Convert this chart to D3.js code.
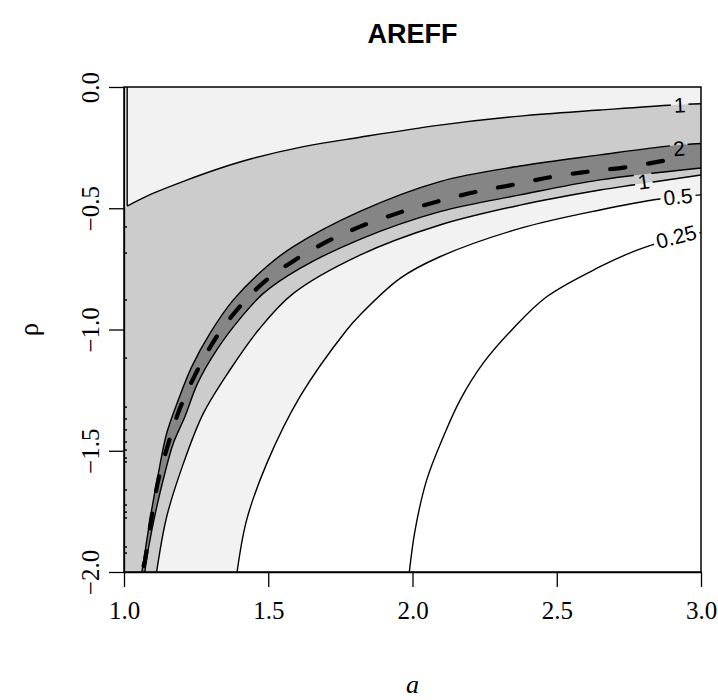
<!DOCTYPE html>
<html>
<head>
<meta charset="utf-8">
<script src="https://cdn.jsdelivr.net/npm/d3@7"></script>
<style>
  body { margin: 0; background: #fff; }
  svg { display: block; }
</style>
</head>
<body>
<div id="chart"></div>
<script>
// axis ticks
const aTicks = [1.0, 1.5, 2.0, 2.5, 3.0];
const rhoTicks = [0.0, -0.5, -1.0, -1.5, -2.0];

// contour lines, as [a, rho]
const ctr1Stem = [[1.011, 0.0], [1.011, -0.491]];
const ctr1Upper = [[1.011, -0.491], [1.102, -0.438], [1.217, -0.384], [1.333, -0.335], [1.448, -0.294],
  [1.622, -0.246], [1.818, -0.207], [2.095, -0.157], [2.373, -0.120], [2.650, -0.095], [2.903, -0.074], [3.0, -0.069]];
const ctr2Upper = [[1.062, -2.0], [1.075, -1.9], [1.095, -1.75], [1.118, -1.6], [1.148, -1.428], [1.188, -1.291],
  [1.235, -1.153], [1.298, -1.016], [1.379, -0.878], [1.494, -0.741], [1.587, -0.658], [1.818, -0.513],
  [2.095, -0.390], [2.373, -0.326], [2.650, -0.280], [2.891, -0.243], [3.0, -0.233]];
const ctr2Lower = [[1.072, -2.0], [1.085, -1.9], [1.11, -1.75], [1.14, -1.6], [1.171, -1.469], [1.211, -1.36],
  [1.255, -1.222], [1.321, -1.085], [1.408, -0.947], [1.483, -0.851], [1.610, -0.748], [1.818, -0.628],
  [2.095, -0.514], [2.373, -0.445], [2.650, -0.383], [3.0, -0.334]];
const ctr1Lower = [[1.113, -2.0], [1.148, -1.772], [1.206, -1.552], [1.275, -1.346], [1.367, -1.167], [1.466, -1.002],
  [1.587, -0.851], [1.818, -0.693], [2.095, -0.569], [2.373, -0.487], [2.650, -0.425], [2.764, -0.404], [3.0, -0.363]];
const ctr05 = [[1.392, -2.0], [1.425, -1.786], [1.495, -1.552], [1.610, -1.277], [1.772, -1.002], [1.818, -0.94],
  [1.957, -0.789], [2.095, -0.700], [2.373, -0.583], [2.650, -0.507], [2.857, -0.462], [3.0, -0.445]];
const ctr025 = [[1.989, -2.0], [2.009, -1.827], [2.049, -1.621], [2.107, -1.442], [2.165, -1.291], [2.245, -1.139],
  [2.344, -1.002], [2.465, -0.865], [2.650, -0.741], [2.736, -0.693], [2.828, -0.652], [3.0, -0.600]];
// dashed ridge line
const ridge = [[1.068, -1.975], [1.073, -1.951], [1.096, -1.772], [1.119, -1.621], [1.154, -1.469], [1.194, -1.325],
  [1.252, -1.174], [1.321, -1.030], [1.391, -0.920], [1.483, -0.807], [1.593, -0.713], [1.708, -0.635],
  [1.818, -0.576], [1.957, -0.517], [2.084, -0.473], [2.217, -0.433], [2.344, -0.404], [2.477, -0.372],
  [2.609, -0.349], [2.741, -0.331], [2.890, -0.300]];
// little contour specks along the left edge
const edgeSpecks = [-0.577, -0.685, -0.878, -1.118, -1.320, -1.369, -1.414, -1.464, -1.497, -1.530,
  -1.546, -1.662, -1.724, -1.753, -1.777, -1.897, -1.922];
// contour labels
const levelLabels = [
  { text: "1", a: 2.926, rho: -0.074, line: ctr1Upper },
  { text: "2", a: 2.924, rho: -0.253, line: ctr2Upper },
  { text: "1", a: 2.801, rho: -0.390, line: ctr1Lower },
  { text: "0.5", a: 2.920, rho: -0.452, line: ctr05 },
  { text: "0.25", a: 2.914, rho: -0.617, line: ctr025 }
];

const W = 718, H = 700;
const mLeft = 124, mRight = 701, mTop = 87, mBottom = 572;

const svg = d3.select("#chart").append("svg")
  .attr("width", W).attr("height", H);

const x = d3.scaleLinear().domain([1, 3]).range([mLeft, mRight]);
const y = d3.scaleLinear().domain([-2, 0]).range([mBottom, mTop]);

const curveLine = d3.line()
  .x(d => x(d[0])).y(d => y(d[1]))
  .curve(d3.curveCatmullRom.alpha(0.5));

// joins several pieces into one closed outline
function outline(parts) {
  let d = "";
  parts.forEach((pts, i) => {
    let s = pts.length > 1 ? curveLine(pts) : "M" + x(pts[0][0]) + "," + y(pts[0][1]);
    if (i > 0) s = "L" + s.slice(1);
    d += s;
  });
  return d + "Z";
}

const defs = svg.append("defs");
defs.append("clipPath").attr("id", "plotclip")
  .append("rect").attr("x", mLeft).attr("y", mTop)
  .attr("width", mRight - mLeft).attr("height", mBottom - mTop);

const fills = svg.append("g").attr("clip-path", "url(#plotclip)");
fills.append("rect").attr("x", mLeft).attr("y", mTop)
  .attr("width", mRight - mLeft).attr("height", mBottom - mTop).attr("fill", "#ffffff");

const [a0, a1] = x.domain();
const [r0, r1] = y.domain();

fills.append("path")
  .attr("d", outline([ctr05, [[a1, r1]], [[a0, r1]], [[a0, r0]]]))
  .attr("fill", "#f2f2f2");
fills.append("path")
  .attr("d", outline([ctr1Lower, ctr1Upper.slice().reverse(), [[a0, ctr1Stem[1][1] - 0.009]], [[a0, r0]]]))
  .attr("fill", "#cccccc");
fills.append("path")
  .attr("d", outline([ctr2Lower, ctr2Upper.slice().reverse()]))
  .attr("fill", "#858585");

// labels first so the line gaps can be measured
const labelFont = "Liberation Sans, Arial, sans-serif";
const lab = svg.append("g");
const labelBoxes = [];
levelLabels.forEach(l => {
  const px = x(l.a), py = y(l.rho);
  // local direction of the line near the label
  const pts = l.line;
  let k = d3.bisector(d => d[0]).left(pts, l.a);
  k = Math.max(1, Math.min(pts.length - 1, k));
  const dx = x(pts[k][0]) - x(pts[k - 1][0]);
  const dy = y(pts[k][1]) - y(pts[k - 1][1]);
  const ang = Math.atan2(dy, dx) * 180 / Math.PI;
  const t = lab.append("text")
    .attr("transform", `translate(${px},${py}) rotate(${ang})`)
    .attr("text-anchor", "middle")
    .attr("dominant-baseline", "central")
    .attr("font-family", labelFont)
    .attr("font-size", 21)
    .attr("fill", "#000")
    .text(l.text);
  const w = t.node().getComputedTextLength();
  labelBoxes.push({ px, py, ang, w });
});

const mask = defs.append("mask").attr("id", "labelgap")
  .attr("maskUnits", "userSpaceOnUse")
  .attr("x", 0).attr("y", 0).attr("width", W).attr("height", H);
mask.append("rect").attr("x", 0).attr("y", 0).attr("width", W).attr("height", H).attr("fill", "#fff");
labelBoxes.forEach(b => {
  mask.append("rect")
    .attr("transform", `translate(${b.px},${b.py}) rotate(${b.ang})`)
    .attr("x", -b.w / 2 - 3).attr("y", -9)
    .attr("width", b.w + 6).attr("height", 18)
    .attr("fill", "#000");
});

const lines = svg.append("g")
  .attr("clip-path", "url(#plotclip)")
  .append("g").attr("mask", "url(#labelgap)");
[ctr1Stem, ctr1Upper, ctr2Upper, ctr2Lower, ctr1Lower, ctr05, ctr025].forEach(c => {
  lines.append("path")
    .attr("d", curveLine(c))
    .attr("fill", "none")
    .attr("stroke", "#000")
    .attr("stroke-width", 1.4);
});

lines.selectAll(".speck")
  .data(edgeSpecks)
  .enter()
  .append("line")
  .attr("x1", x(a0)).attr("x2", x(a0) + 3)
  .attr("y1", d => y(d)).attr("y2", d => y(d))
  .attr("stroke", "#000").attr("stroke-width", 1.5);

svg.append("path")
  .attr("clip-path", "url(#plotclip)")
  .attr("d", curveLine(ridge))
  .attr("fill", "none")
  .attr("stroke", "#000")
  .attr("stroke-width", 4.2)
  .attr("stroke-linecap", "round")
  .attr("stroke-dasharray", "15 23");

// axes
const serif = "Liberation Serif, Times New Roman, serif";
const xAxis = svg.append("g")
  .attr("transform", `translate(0,${mBottom})`)
  .call(d3.axisBottom(x).tickValues(aTicks).tickSize(15).tickSizeOuter(0).tickFormat(d3.format(".1f")));
xAxis.selectAll("text")
  .attr("y", 47).attr("dy", 0)
  .attr("font-family", serif).attr("font-size", 25).attr("fill", "#000");

const yAxis = svg.append("g")
  .attr("transform", `translate(${mLeft},0)`)
  .call(d3.axisLeft(y).tickValues(rhoTicks).tickSize(15).tickSizeOuter(0).tickFormat(d3.format(".1f")));
yAxis.selectAll("text")
  .attr("x", 0).attr("dy", 0)
  .attr("transform", "translate(-25,0) rotate(-90)")
  .attr("text-anchor", "middle")
  .attr("font-family", serif).attr("font-size", 25).attr("fill", "#000");

svg.selectAll(".domain").attr("stroke", "#000").attr("stroke-width", 1.3);
svg.selectAll(".tick line").attr("stroke", "#000").attr("stroke-width", 1.3);

// plot box
svg.append("rect")
  .attr("x", mLeft).attr("y", mTop)
  .attr("width", mRight - mLeft).attr("height", mBottom - mTop)
  .attr("fill", "none").attr("stroke", "#000").attr("stroke-width", 1.5);

// titles
svg.append("text")
  .attr("x", (mLeft + mRight) / 2).attr("y", 43)
  .attr("text-anchor", "middle")
  .attr("font-family", "Liberation Sans, Arial, sans-serif")
  .attr("font-weight", "bold").attr("font-size", 27)
  .text("AREFF");

svg.append("text")
  .attr("x", (mLeft + mRight) / 2).attr("y", 693)
  .attr("text-anchor", "middle")
  .attr("font-family", serif).attr("font-style", "italic").attr("font-size", 26)
  .text("a");

svg.append("text")
  .attr("transform", `translate(38,${(mTop + mBottom) / 2}) rotate(-90)`)
  .attr("text-anchor", "middle")
  .attr("font-family", serif).attr("font-size", 27)
  .text("ρ");
</script>
</body>
</html>
